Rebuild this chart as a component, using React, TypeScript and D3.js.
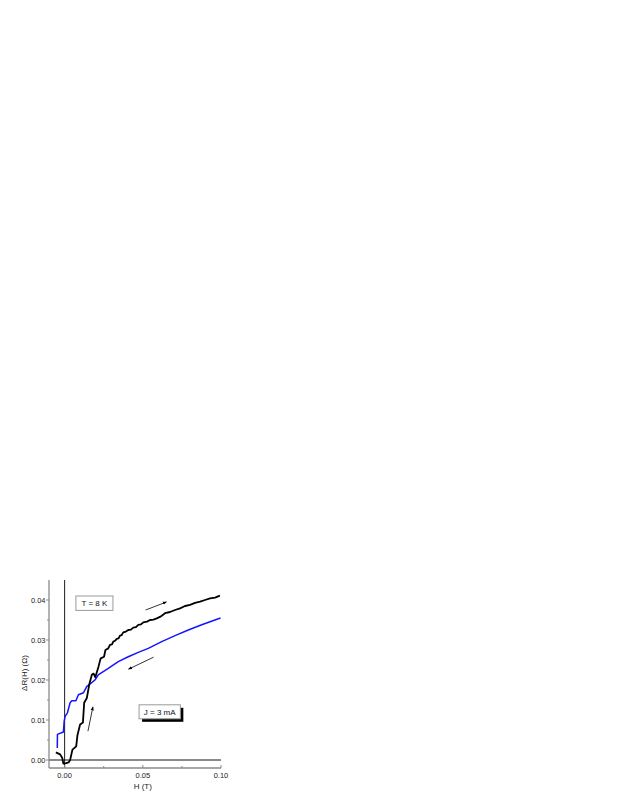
import React from "react";
import * as d3 from "d3";

const blackH = [-0.0056, -0.0029, -0.0015, -0.0008, 0.001, 0.0025, 0.0035, 0.005, 0.0074, 0.0082, 0.0099, 0.0117, 0.0125, 0.0142, 0.0157, 0.0174, 0.0185, 0.0196, 0.0217, 0.0228,
  0.0231, 0.0252, 0.0261, 0.0279, 0.029, 0.0303, 0.0311, 0.0322, 0.0333, 0.0345, 0.0354, 0.0364, 0.0375, 0.0392, 0.0407, 0.0424, 0.0439, 0.0456, 0.0471, 0.0488, 0.0503, 0.0527, 0.0546, 0.0568, 0.0589, 0.0616, 0.0642, 0.0674, 0.0706, 0.0738, 0.077, 0.0802, 0.0834, 0.0866, 0.0898, 0.093, 0.0962, 0.0993];
const blackR = [0.0019, 0.0014, 0.0005, -0.0009, -0.0008, -0.0006, 0.0, 0.0026, 0.0034, 0.0062, 0.0089, 0.0094, 0.0143, 0.0155, 0.0188, 0.0213, 0.0216, 0.0207, 0.0234, 0.0251,
  0.0254, 0.0258, 0.0275, 0.0279, 0.0288, 0.0289, 0.0296, 0.0298, 0.0303, 0.0304, 0.0311, 0.0312, 0.0319, 0.0321, 0.0325, 0.0326, 0.0331, 0.0332, 0.0338, 0.0339, 0.0344, 0.0346, 0.035, 0.0351, 0.0354, 0.0359, 0.0367, 0.037, 0.0375, 0.0379, 0.0385, 0.0388, 0.0393, 0.0396, 0.04, 0.0404, 0.0406, 0.0411];

const blueH = [-0.0047, -0.0046, -0.0008, -0.0003, 0.0003, 0.0018, 0.0035, 0.0046, 0.0072, 0.0088, 0.012, 0.0142, 0.0163, 0.0196, 0.0215, 0.0279, 0.0343, 0.0407, 0.0471, 0.0535, 0.0621, 0.0706, 0.0791, 0.0877, 0.0983, 0.0997];
const blueR = [0.003, 0.0064, 0.007, 0.0097, 0.0109, 0.0118, 0.0143, 0.0148, 0.0148, 0.0163, 0.0168, 0.0184, 0.019, 0.0201, 0.0213, 0.0229, 0.0246, 0.0258, 0.0269, 0.0279, 0.0296, 0.0311, 0.0325, 0.0338, 0.0353, 0.0355];

const xMajor = [0, 0.05, 0.1];
const xMinor = [0.025, 0.075];
const xTickLabels = ["0.00", "0.05", "0.10"];
const yMajor = [0, 0.01, 0.02, 0.03, 0.04];
const yMinor = [0.005, 0.015, 0.025, 0.035];
const yTickLabels = ["0.00", "0.01", "0.02", "0.03", "0.04"];

// arrows: [H1, R1, H2, R2]
const arrows = [
  [0.0518, 0.0375, 0.0651, 0.0395],
  [0.0569, 0.0257, 0.0408, 0.0227],
  [0.0149, 0.0072, 0.0181, 0.0133],
];
const labelT = { text: "T = 8 K", h0: 0.0072, h1: 0.0309, r0: 0.041, r1: 0.0374 };
const labelJ = { text: "J = 3 mA", h0: 0.0476, h1: 0.074, r0: 0.0138, r1: 0.0103 };

export default function App() {
  const x = d3.scaleLinear().domain([-0.01, 0.1]).range([49, 221]);
  const y = d3.scaleLinear().domain([-0.002, 0.045]).range([768, 580]);
  const font = "Arial, 'Liberation Sans', sans-serif";
  const axisColor = "#8a8a8a";

  const line = d3
    .line<[number, number]>()
    .x((d) => x(d[0]))
    .y((d) => y(d[1]));
  const blackPts = blackH.map((h, i) => [h, blackR[i]] as [number, number]);
  const bluePts = blueH.map((h, i) => [h, blueR[i]] as [number, number]);

  const [xmin, xmax] = x.range();
  const [ybot, ytop] = y.range();

  const box = (l: typeof labelT, shadow: boolean) => {
    const bx = x(l.h0), by = y(l.r0), bw = x(l.h1) - x(l.h0), bh = y(l.r1) - y(l.r0);
    return (
      <g>
        {shadow && <rect x={bx + 3} y={by + 3} width={bw} height={bh} fill="#000" />}
        <rect x={bx} y={by} width={bw} height={bh} fill="#fff" stroke="#999" strokeWidth={1} />
        <text x={bx + bw / 2} y={by + bh / 2 + 3} textAnchor="middle" fontSize={8} fontFamily={font} fill="#111">
          {l.text}
        </text>
      </g>
    );
  };

  return (
    <svg width={623} height={806} style={{ position: "absolute", left: 0, top: 0 }}>
      <defs>
        <marker id="ah" viewBox="0 0 10 10" refX="9" refY="5" markerWidth="5" markerHeight="5" orient="auto">
          <path d="M0,1 L10,5 L0,9 Z" fill="#000" />
        </marker>
      </defs>
      <rect width={623} height={806} fill="#fff" />
      {/* zero lines */}
      <line x1={xmin} x2={xmax} y1={y(0)} y2={y(0)} stroke="#8a8a8a" strokeWidth={2} />
      <line x1={x(0)} x2={x(0)} y1={ytop} y2={ybot} stroke="#000" strokeWidth={0.9} />
      {/* axes */}
      <line x1={xmin} x2={xmin} y1={ytop} y2={ybot} stroke={axisColor} strokeWidth={1.3} />
      <line x1={xmin} x2={xmax} y1={ybot} y2={ybot} stroke={axisColor} strokeWidth={1.3} />
      {yMajor.map((v, i) => (
        <g key={"ym" + i}>
          <line x1={xmin - 3} x2={xmin} y1={y(v)} y2={y(v)} stroke={axisColor} strokeWidth={1} />
          <text x={xmin - 3.5} y={y(v) + 2.6} textAnchor="end" fontSize={7.5} fontFamily={font} fill="#222">
            {yTickLabels[i]}
          </text>
        </g>
      ))}
      {yMinor.map((v, i) => (
        <line key={"yn" + i} x1={xmin - 2} x2={xmin} y1={y(v)} y2={y(v)} stroke={axisColor} strokeWidth={1} />
      ))}
      {xMajor.map((v, i) => (
        <g key={"xm" + i}>
          <line x1={x(v)} x2={x(v)} y1={ybot} y2={ybot - 3} stroke={axisColor} strokeWidth={1} />
          <text x={x(v)} y={ybot + 10} textAnchor="middle" fontSize={7.5} fontFamily={font} fill="#222">
            {xTickLabels[i]}
          </text>
        </g>
      ))}
      {xMinor.map((v, i) => (
        <line key={"xn" + i} x1={x(v)} x2={x(v)} y1={ybot} y2={ybot - 2} stroke={axisColor} strokeWidth={1} />
      ))}
      <text x={x(0.05)} y={ybot + 21} textAnchor="middle" fontSize={8} fontFamily={font} fill="#222">
        H (T)
      </text>
      <text
        transform={`translate(26.5, ${(ytop + ybot) / 2 - 1}) rotate(-90)`}
        textAnchor="middle"
        fontSize={8}
        fontFamily={font}
        fill="#222"
      >
        ΔR(H) (Ω)
      </text>
      {/* curves */}
      <path d={line(bluePts) || ""} fill="none" stroke="#1414ff" strokeWidth={1.5} strokeLinejoin="round" />
      <path d={line(blackPts) || ""} fill="none" stroke="#000" strokeWidth={1.8} strokeLinejoin="round" />
      {/* arrows */}
      {arrows.map((a, i) => (
        <line key={"a" + i} x1={x(a[0])} y1={y(a[1])} x2={x(a[2])} y2={y(a[3])} stroke="#000" strokeWidth={0.8} markerEnd="url(#ah)" />
      ))}
      {box(labelT, false)}
      {box(labelJ, true)}
    </svg>
  );
}
